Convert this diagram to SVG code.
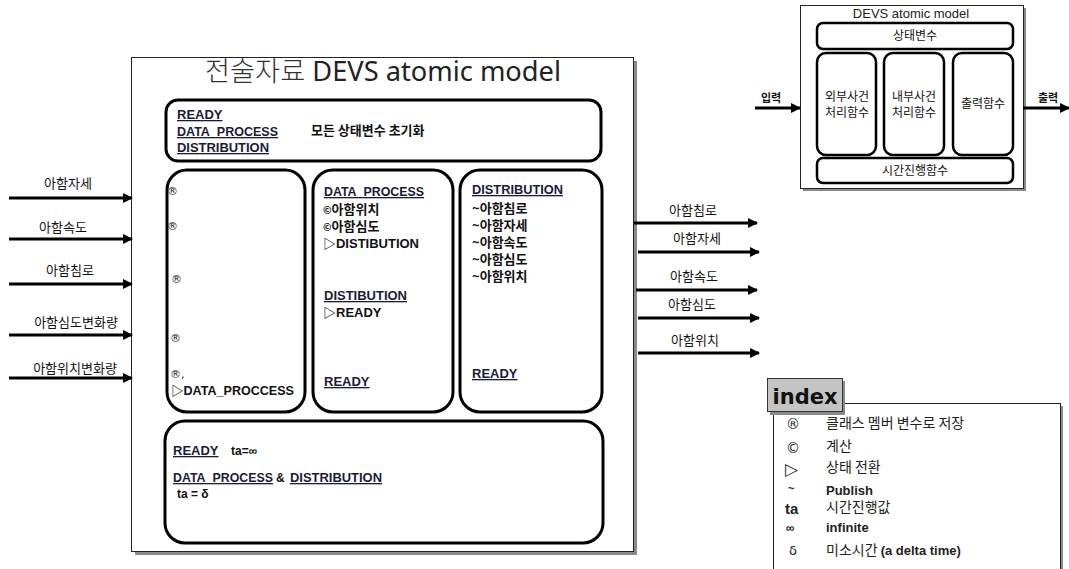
<svg xmlns="http://www.w3.org/2000/svg" width="1069" height="569" viewBox="0 0 1069 569">
<style>
.box{fill:#fff;stroke:#000;stroke-width:3}
.mbox{fill:#fff;stroke:#000;stroke-width:2.5}
.frame{fill:#fff;stroke:#222;stroke-width:1}
.shadow{fill:#8a8a8a}
.h{font-family:"Liberation Sans",Arial,sans-serif;font-weight:bold;font-size:13px;fill:#1a1a3a;text-decoration:underline}
.b{font-family:"Liberation Sans","Noto Sans CJK KR",sans-serif;font-weight:bold;font-size:13px;fill:#111}
.k{font-family:"Noto Sans CJK KR",sans-serif;font-weight:bold;font-size:13px;fill:#111}
.sym{font-family:"DejaVu Sans",sans-serif;font-size:11px;fill:#222}
.lbl{font-family:"Noto Sans CJK KR",sans-serif;font-size:13px;fill:#111}
.sm{font-family:"Noto Sans CJK KR",sans-serif;font-size:12px;fill:#111}
.ix{font-family:"Noto Sans CJK KR",sans-serif;font-size:14px;fill:#222}
.ixe{font-family:"Liberation Sans",sans-serif;font-weight:bold;font-size:13px;fill:#222}
.arr{stroke:#000;stroke-width:3;fill:none;marker-end:url(#ah)}
</style>
<defs>
<marker id="ah" viewBox="0 0 10 10" refX="9" refY="5" markerWidth="3.3" markerHeight="3.3" orient="auto" markerUnits="strokeWidth">
<path d="M0,0 L10,5 L0,10 z" fill="#000"/>
</marker>
</defs>

<g id="main-model">
<rect class="shadow" x="135" y="61" width="502" height="494"/>
<rect class="frame" x="131.5" y="57.5" width="502" height="494"/>
<text x="383" y="81" text-anchor="middle" font-family="'Noto Sans','Noto Sans CJK KR',sans-serif" font-size="27" fill="#222" textLength="356" lengthAdjust="spacingAndGlyphs"><tspan font-family="'Noto Sans CJK KR',sans-serif" font-weight="300" fill="#333">전술자료</tspan> DEVS atomic model</text>
</g>

<g id="init-box">
<rect class="box" x="166" y="100" width="435" height="61" rx="12"/>
<text class="h" x="177" y="119">READY</text>
<text class="h" x="177" y="136" textLength="101" lengthAdjust="spacingAndGlyphs">DATA_PROCESS</text>
<text class="h" x="177" y="152" textLength="92" lengthAdjust="spacingAndGlyphs">DISTRIBUTION</text>
<text class="k" x="311" y="135">모든 상태변수 초기화</text>
</g>

<g id="external-box">
<rect class="box" x="167" y="170" width="138" height="242" rx="20"/>
<text class="sym" x="167" y="195">®</text>
<text class="sym" x="167" y="230">®</text>
<text class="sym" x="171" y="283">®</text>
<text class="sym" x="170" y="342">®</text>
<text class="sym" x="170" y="378">®,</text>
<text class="b" x="171" y="395" style="font-weight:600" textLength="123" lengthAdjust="spacingAndGlyphs">▷DATA_PROCCESS</text>
</g>

<g id="internal-box">
<rect class="box" x="313" y="170" width="140" height="242" rx="20"/>
<text class="h" x="324" y="196" textLength="100" lengthAdjust="spacingAndGlyphs">DATA_PROCESS</text>
<text class="k" x="323" y="214"><tspan style="font-size:10px">©</tspan>아함위치</text>
<text class="k" x="323" y="231"><tspan style="font-size:10px">©</tspan>아함심도</text>
<text class="b" x="323" y="248" textLength="96" lengthAdjust="spacingAndGlyphs">▷DISTIBUTION</text>
<text class="h" x="324" y="300" textLength="83" lengthAdjust="spacingAndGlyphs">DISTIBUTION</text>
<text class="b" x="323" y="317">▷READY</text>
<text class="h" x="324" y="386">READY</text>
</g>

<g id="output-box">
<rect class="box" x="460" y="170" width="142" height="242" rx="20"/>
<text class="h" x="472" y="194" textLength="91" lengthAdjust="spacingAndGlyphs">DISTRIBUTION</text>
<text class="k" x="472" y="213">~아함침로</text>
<text class="k" x="472" y="230">~아함자세</text>
<text class="k" x="472" y="247">~아함속도</text>
<text class="k" x="472" y="264">~아함심도</text>
<text class="k" x="472" y="281">~아함위치</text>
<text class="h" x="472" y="378">READY</text>
</g>

<g id="time-box">
<rect class="box" x="165" y="421" width="438" height="122" rx="20"/>
<text class="h" x="173" y="455">READY</text>
<text class="b" x="231" y="455" style="font-size:12px">ta=∞</text>
<text class="h" x="173" y="482" textLength="100" lengthAdjust="spacingAndGlyphs">DATA_PROCESS</text>
<text class="b" x="276" y="482" style="font-size:12px">&amp;</text>
<text class="h" x="290" y="482" textLength="92" lengthAdjust="spacingAndGlyphs">DISTRIBUTION</text>
<text class="b" x="177" y="498" style="font-size:12px">ta = δ</text>
</g>

<g id="mini-model">
<rect class="shadow" x="803" y="8" width="223" height="183"/>
<rect class="frame" x="800.5" y="5.5" width="223" height="183"/>
<text x="911" y="18" text-anchor="middle" font-family="'Liberation Sans',sans-serif" font-size="13" fill="#222">DEVS atomic model</text>
<rect class="mbox" x="817" y="23" width="196" height="26" rx="6"/>
<text class="sm" x="915" y="40" text-anchor="middle">상태변수</text>
<rect class="mbox" x="817" y="53" width="59" height="102" rx="9"/>
<text class="sm" x="847" y="101" text-anchor="middle">외부사건</text>
<text class="sm" x="847" y="117" text-anchor="middle">처리함수</text>
<rect class="mbox" x="884" y="53" width="60" height="102" rx="9"/>
<text class="sm" x="914" y="101" text-anchor="middle">내부사건</text>
<text class="sm" x="914" y="117" text-anchor="middle">처리함수</text>
<rect class="mbox" x="953" y="53" width="60" height="102" rx="9"/>
<text class="sm" x="983" y="108" text-anchor="middle">출력함수</text>
<rect class="mbox" x="817" y="158" width="196" height="25" rx="6"/>
<text class="sm" x="915" y="175" text-anchor="middle">시간진행함수</text>
<text class="sm" x="771" y="102" text-anchor="middle" style="font-weight:bold;font-size:11px">입력</text>
<text class="sm" x="1048" y="102" text-anchor="middle" style="font-weight:bold;font-size:11px">출력</text>
</g>

<g id="index">
<rect class="shadow" x="776" y="406" width="287" height="170"/>
<rect class="frame" x="773.5" y="403.5" width="287" height="170"/>
<rect class="shadow" x="770" y="381" width="75" height="34"/>
<rect x="767.5" y="378.5" width="75" height="33" fill="#c4c4c4" stroke="#333" stroke-width="1"/>
<text x="805" y="404" text-anchor="middle" font-family="'DejaVu Sans',sans-serif" font-weight="bold" font-size="21" fill="#111">index</text>
<text class="sym" x="786" y="429" style="font-size:14px">®</text>
<text class="ix" x="826" y="428">클래스 멤버 변수로 저장</text>
<text class="sym" x="786" y="453" style="font-size:14px">©</text>
<text class="ix" x="826" y="451">계산</text>
<text class="sym" x="785" y="475" style="font-size:17px">▷</text>
<text class="ix" x="826" y="472">상태 전환</text>
<text class="ixe" x="788" y="492" style="font-size:11px">~</text>
<text class="ixe" x="826" y="495">Publish</text>
<text class="ixe" x="785" y="514" style="font-size:15px">ta</text>
<text class="ix" x="826" y="512">시간진행값</text>
<text class="ixe" x="786" y="532" style="font-size:12px">∞</text>
<text class="ixe" x="826" y="532">infinite</text>
<text class="sym" x="789" y="555" style="font-size:13px">δ</text>
<text class="ix" x="826" y="555">미소시간 <tspan style="font-family:'Liberation Sans',sans-serif;font-weight:bold;font-size:13px">(a delta time)</tspan></text>
</g>

<g id="connectors">
<line class="arr" x1="9" y1="198" x2="132" y2="198"/>
<line class="arr" x1="9" y1="239" x2="132" y2="239"/>
<line class="arr" x1="9" y1="284" x2="132" y2="284"/>
<line class="arr" x1="9" y1="335" x2="132" y2="335"/>
<line class="arr" x1="9" y1="378" x2="132" y2="378"/>
<line class="arr" x1="634" y1="223" x2="757" y2="223"/>
<line class="arr" x1="638" y1="252" x2="759" y2="252"/>
<line class="arr" x1="636" y1="290" x2="757" y2="290"/>
<line class="arr" x1="638" y1="318" x2="759" y2="318"/>
<line class="arr" x1="638" y1="353" x2="759" y2="353"/>
<line class="arr" x1="755" y1="108" x2="800" y2="108"/>
<line class="arr" x1="1023" y1="108" x2="1069" y2="108"/>
<text class="lbl" x="68" y="188" text-anchor="middle">아함자세</text>
<text class="lbl" x="63" y="232" text-anchor="middle">아함속도</text>
<text class="lbl" x="70" y="275" text-anchor="middle">아함침로</text>
<text class="lbl" x="76" y="327" text-anchor="middle">아함심도변화량</text>
<text class="lbl" x="75" y="373" text-anchor="middle">아함위치변화량</text>
<text class="lbl" x="693" y="215" text-anchor="middle">아함침로</text>
<text class="lbl" x="697" y="243" text-anchor="middle">아함자세</text>
<text class="lbl" x="694" y="281" text-anchor="middle">아함속도</text>
<text class="lbl" x="692" y="309" text-anchor="middle">아함심도</text>
<text class="lbl" x="695" y="345" text-anchor="middle">아함위치</text>
</g>
</svg>
